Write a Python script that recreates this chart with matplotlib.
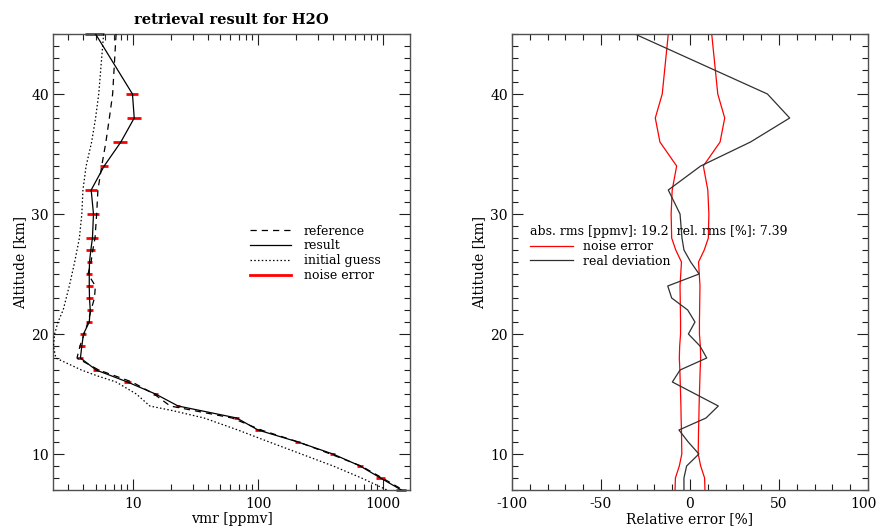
import numpy as np
import matplotlib
matplotlib.use("Agg")
import matplotlib.pyplot as plt
from matplotlib.ticker import FixedLocator, MultipleLocator, LogLocator, NullFormatter, StrMethodFormatter
from matplotlib.transforms import ScaledTranslation
from matplotlib.lines import Line2D

# retrieval grid [km]
altitude = [45, 40, 38, 36, 34, 32, 30, 28, 27, 26, 25, 24, 23, 22, 21, 20,
            19, 18, 17, 16, 15, 14, 13, 12, 11, 10, 9, 8, 7]

# H2O vmr [ppmv]
result = [5.0, 9.87, 10.2, 7.97, 5.86, 4.61, 4.81, 4.72, 4.58, 4.47, 4.45, 4.45,
          4.47, 4.53, 4.45, 4.0, 3.88, 3.78, 5.05, 9.0, 15.1, 22.9, 67.5, 100,
          209, 398, 658, 958, 1406]
reference = [7.3, 6.85, 6.45, 6.05, 5.6, 5.22, 5.1, 4.95, 4.75, 4.6, 4.35, 4.98,
             4.9, 4.6, 4.35, 4.05, 3.75, 3.55, 5.3, 9.8, 14.7, 19.8, 62, 106,
             211, 380, 670, 990, 1450]

# first guess has its own, finer grid near the tropopause
guess_alt = [45, 40, 38, 36, 34, 32, 30, 28, 26, 24, 22, 21, 20, 19, 18, 17,
             16.5, 16, 15, 14, 13.6, 13, 12, 11, 10, 9, 8, 7]
guess = [5.8, 5.3, 5.0, 4.65, 4.2, 3.96, 3.88, 3.71, 3.4, 3.08, 2.75, 2.5, 2.35,
         2.3, 2.4, 3.85, 5.2, 7.3, 10.6, 13.6, 21, 37, 69, 123, 222, 400, 675, 1080]

# noise error (relative to reference) and real deviation [%]
noise_pct = [12.2, 15.6, 19.5, 16.9, 7.5, 10.0, 10.6, 10.3, 8.0, 4.8, 5.2, 5.6,
             5.5, 5.4, 5.3, 5.3, 5.8, 6.0, 5.7, 5.5, 5.3, 5.1, 5.0, 4.8, 4.7,
             4.6, 6.0, 8.2, 8.4]
deviation = [-31, 43.5, 56, 34, 6, -12.2, -5.6, -4.5, -3.4, 0.4, 5.1, -12.5,
             -10.3, -1.3, 2.8, -0.9, 5.6, 9.4, -5.6, -9.9, 3.0, 15.9, 9.0, -6.2,
             -1.0, 5.0, -1.9, -3.4, -3.4]

abs_rms = 19.2
rel_rms = 7.39

plt.rcParams['font.family'] = ['DejaVu Serif']
plt.rcParams['font.size'] = 9
plt.rcParams['axes.unicode_minus'] = False

W, H = 879, 526
fig = plt.figure(figsize=(W / 100, H / 100), dpi=100)
ax1 = fig.add_axes([53 / W, 36 / H, 357 / W, 456 / H])
ax2 = fig.add_axes([512 / W, 36 / H, 356 / W, 456 / H])

dashed = (0, (5, 4))
dotted = (0, (1.2, 1.8))
frame = '#505050'


def style_axes(ax):
    for sp in ax.spines.values():
        sp.set_color(frame)
        sp.set_linewidth(1.0)
    ax.tick_params(which='both', direction='in', top=True, right=True,
                   color='#202020', width=0.8, labelsize=10)
    ax.tick_params(which='major', length=8, pad=5)
    ax.tick_params(which='minor', length=4.5)
    ax.set_ylim(7, 45)
    ax.yaxis.set_major_locator(MultipleLocator(10))
    ax.yaxis.set_minor_locator(MultipleLocator(1))
    ax.tick_params(axis='y', which='major', pad=3)
    ax.set_ylabel('Altitude [km]', labelpad=3, fontsize=10)


# left: profiles
ref = np.array(reference)
err = ref * np.array(noise_pct) / 100
bars = ax1.errorbar(result, altitude, xerr=err, fmt='none', ecolor='red',
                    elinewidth=2, capsize=0, zorder=2)
for coll in bars.lines[2]:
    coll.set_clip_on(False)
ax1.plot(reference, altitude, color='black', ls=dashed, lw=0.9, zorder=3)
ax1.plot(result, altitude, color='black', lw=0.9, zorder=4)
ax1.plot(guess, guess_alt, color='black', ls=dotted, lw=0.9, zorder=3)

ax1.set_xscale('log')
ax1.set_xlim(2.28, 1650)
ax1.xaxis.set_major_locator(FixedLocator([10, 100, 1000]))
ax1.xaxis.set_major_formatter(StrMethodFormatter('{x:g}'))
ax1.xaxis.set_minor_locator(LogLocator(subs=np.arange(2, 10)))
ax1.xaxis.set_minor_formatter(NullFormatter())
style_axes(ax1)
ax1.set_xlabel('vmr [ppmv]', labelpad=1, fontsize=10)
ax1.set_title('retrieval result for H2O', fontsize=10.5, fontweight='bold', pad=7)

handles = [
    Line2D([], [], color='black', ls=dashed, lw=0.9),
    Line2D([], [], color='black', lw=0.9),
    Line2D([], [], color='black', ls=dotted, lw=0.9),
    Line2D([], [], color='red', lw=2),
]
ax1.legend(handles, ['reference', 'result', 'initial guess', 'noise error'],
           loc='center left', bbox_to_anchor=(0.552, 0.519), frameon=False,
           borderpad=0, borderaxespad=0, handlelength=3.3, handletextpad=1.0,
           labelspacing=0.15, fontsize=9)

# right: relative errors
noise = np.array(noise_pct)
ax2.plot(-noise, altitude, color='red', lw=0.9)
ax2.plot(noise, altitude, color='red', lw=0.9)
ax2.plot(deviation, altitude, color='#303030', lw=0.9)
ax2.set_xlim(-100, 100)
ax2.xaxis.set_major_locator(FixedLocator([-100, -50, 0, 50, 100]))
ax2.xaxis.set_minor_locator(MultipleLocator(10))
style_axes(ax2)
ax2.set_xlabel('Relative error [%]', labelpad=1, fontsize=10)

ax2.text(0.0506, 0.5664, f'abs. rms [ppmv]: {abs_rms}  rel. rms [%]: {rel_rms}',
         transform=ax2.transAxes, va='center', ha='left', fontsize=9)
ax2.legend([Line2D([], [], color='red', lw=0.9), Line2D([], [], color='#303030', lw=0.9)],
           ['noise error', 'real deviation'],
           loc='center left', bbox_to_anchor=(0.0506, 0.5178), frameon=False,
           borderpad=0, borderaxespad=0, handlelength=3.4, handletextpad=0.8,
           labelspacing=0.15, fontsize=9)

# keep the "100" at the right edge inside the figure
fig.canvas.draw()
last = ax2.xaxis.get_major_ticks()[-1].label1
last.set_transform(last.get_transform() + ScaledTranslation(-0.04, 0, fig.dpi_scale_trans))

fig.savefig('out.png', dpi=100)
